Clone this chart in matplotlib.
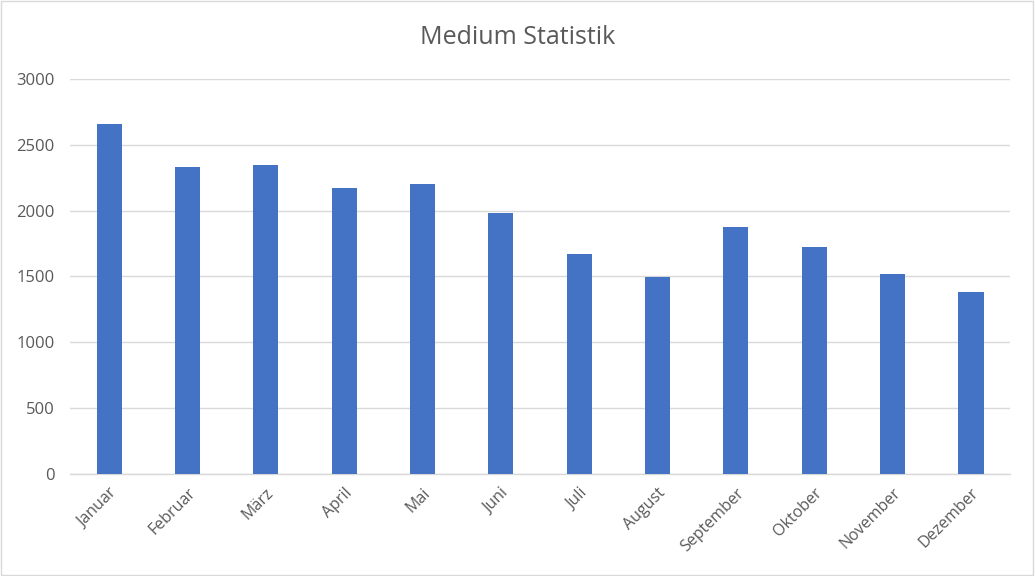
import matplotlib.pyplot as plt
import numpy as np

# data
months = ["Januar", "Februar", "März", "April", "Mai", "Juni",
          "Juli", "August", "September", "Oktober", "November", "Dezember"]
views = [2658, 2332, 2347, 2172, 2203, 1982, 1671, 1496, 1876, 1724, 1519, 1382]
yticks = [0, 500, 1000, 1500, 2000, 2500, 3000]

plt.rcParams['font.family'] = ['Open Sans', 'DejaVu Sans']
text_col = '#595959'
grid_col = '#d9d9d9'

fig = plt.figure(figsize=(10.35, 5.76), dpi=100)
ax = fig.add_axes([0.0676, 0.177, 0.9084, 0.686])

x = np.arange(len(months))
ax.bar(x, views, width=0.32, color='#4472C4', zorder=3)

ax.set_xlim(-0.5, len(months) - 0.5)
ax.set_ylim(0, 3000)
ax.set_yticks(yticks)
ax.set_xticks(x)
ax.set_xticklabels(months, rotation=45, ha='right', va='top',
                   rotation_mode='anchor', fontsize=11.5, color=text_col)
ax.tick_params(axis='y', length=0, labelsize=12, labelcolor=text_col, pad=11)
ax.tick_params(axis='x', length=0, pad=8)
ax.yaxis.grid(True, color=grid_col, linewidth=1, zorder=0)
for s in ['top', 'right', 'left']:
    ax.spines[s].set_visible(False)
ax.spines['bottom'].set_color(grid_col)
ax.spines['bottom'].set_linewidth(1)

fig.text(0.5, 0.935, "Medium Statistik", ha='center', va='center',
         fontsize=18, color=text_col)

# light outer border like the chart area frame
fig.patches.append(plt.Rectangle((0.001, 0.002), 0.997, 0.996, transform=fig.transFigure,
                                 fill=False, edgecolor=grid_col, linewidth=1))

fig.savefig("out.png", dpi=100)
